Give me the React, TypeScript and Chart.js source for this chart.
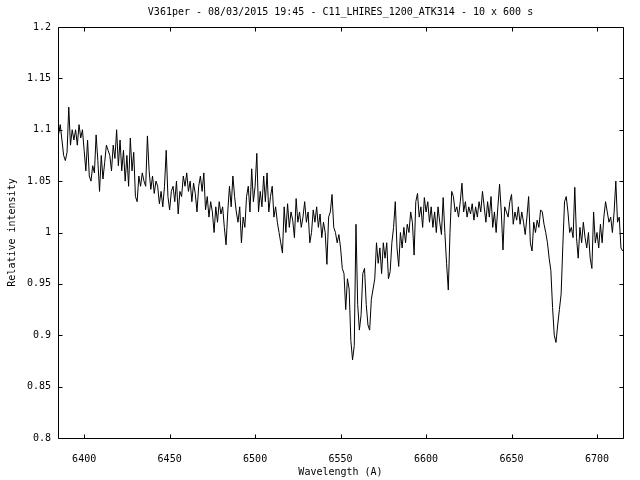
import { useEffect, useRef } from "react";
import { Chart, registerables } from "chart.js";

Chart.register(...registerables);

const TITLE = "V361per - 08/03/2015 19:45 - C11_LHIRES_1200_ATK314 - 10 x 600 s";
const X_LABEL = "Wavelength (A)";
const Y_LABEL = "Relative intensity";

const xTicks = [6400, 6450, 6500, 6550, 6600, 6650, 6700];
const yTicks = [0.8, 0.85, 0.9, 0.95, 1.0, 1.05, 1.1, 1.15, 1.2];

const X_MIN = 6384.7;
const X_MAX = 6715.2;
const Y_MIN = 0.8;
const Y_MAX = 1.2;

// Sampling grid of the spectrum (Angstrom)
const WAVELENGTH_START = 6385;
const WAVELENGTH_STEP = 1;

// Relative intensity, 6385 - 6451 A
const intensityA = [
  1.095, 1.105, 1.09, 1.075, 1.07, 1.078, 1.122, 1.085, 1.1, 1.09,
  1.1, 1.085, 1.105, 1.092, 1.1, 1.08, 1.06, 1.09, 1.055, 1.05,
  1.065, 1.058, 1.095, 1.07, 1.04, 1.075, 1.052, 1.068, 1.085, 1.08,
  1.075, 1.06, 1.085, 1.072, 1.1, 1.065, 1.09, 1.06, 1.08, 1.05,
  1.075, 1.045, 1.092, 1.06, 1.078, 1.035, 1.03, 1.055, 1.045, 1.058,
  1.05, 1.045, 1.094, 1.06, 1.042, 1.055, 1.038, 1.05, 1.045, 1.028,
  1.04, 1.025, 1.045, 1.08, 1.035, 1.022, 1.04,
];

// 6452 - 6516 A
const intensityB = [
  1.045, 1.03, 1.05, 1.018, 1.04, 1.035, 1.055, 1.045, 1.058, 1.04,
  1.05, 1.03, 1.048, 1.038, 1.02, 1.045, 1.055, 1.04, 1.058, 1.022,
  1.035, 1.015, 1.03, 1.02, 1.0, 1.025, 1.01, 1.03, 1.018, 1.025,
  1.005, 0.988, 1.02, 1.045, 1.025, 1.055, 1.035, 1.02, 1.01, 1.025,
  0.99, 1.015, 1.005, 1.035, 1.045, 1.02, 1.062, 1.03, 1.045, 1.077,
  1.02, 1.04, 1.025, 1.055, 1.03, 1.058, 1.02, 1.035, 1.045, 1.015,
  1.025, 1.01, 1.0, 0.99, 0.98,
];

// 6517 - 6582 A (H-alpha region)
const intensityC = [
  1.025, 1.0, 1.028, 1.005, 1.02, 1.012, 0.995, 1.033, 1.01, 1.02,
  1.005, 1.015, 1.03, 1.01, 1.02, 0.99, 1.0, 1.022, 1.01, 1.025,
  1.005, 1.018, 0.995, 1.01, 1.0, 0.969, 1.015, 1.02, 1.037, 1.005,
  1.0, 0.99, 0.998, 0.985, 0.965, 0.96, 0.925, 0.955, 0.945, 0.895,
  0.876, 0.89, 1.008, 0.93, 0.905, 0.92, 0.96, 0.965, 0.93, 0.91,
  0.905, 0.935, 0.945, 0.955, 0.99, 0.97, 0.985, 0.96, 0.99, 0.975,
  0.99, 0.955, 0.962, 0.99, 1.005, 1.03,
];

// 6583 - 6647 A
const intensityD = [
  0.985, 0.967, 1.0, 0.985, 1.005, 0.99, 1.008, 1.0, 1.02, 1.01,
  0.978, 1.03, 1.038, 1.015, 1.025, 1.005, 1.034, 1.02, 1.03, 1.01,
  1.025, 1.005, 1.02, 1.0, 1.025, 1.01, 0.998, 1.034, 1.0, 0.97,
  0.944, 1.0, 1.04, 1.035, 1.02, 1.025, 1.015, 1.03, 1.048, 1.02,
  1.03, 1.015, 1.025, 1.018, 1.028, 1.012, 1.025, 1.015, 1.03, 1.02,
  1.04, 1.025, 1.01, 1.03, 1.015, 1.035, 1.005, 1.02, 1.0, 1.025,
  1.047, 1.02, 0.983, 1.025, 1.02,
];

// 6648 - 6715 A (He I 6678 region)
const intensityE = [
  1.015, 1.03, 1.037, 1.008, 1.02, 1.012, 1.025, 1.008, 1.02, 1.01,
  0.998, 1.015, 1.035, 0.99, 0.982, 1.01, 1.0, 1.012, 1.005, 1.022,
  1.02, 1.008, 1.0, 0.99, 0.975, 0.963, 0.927, 0.9, 0.893, 0.91,
  0.925, 0.94, 0.987, 1.03, 1.035, 1.02, 1.0, 1.005, 0.995, 1.044,
  0.995, 0.975, 1.005, 0.99, 1.01, 0.995, 0.985, 1.0, 0.975, 0.965,
  1.02, 0.99, 1.0, 0.985, 1.008, 0.99, 1.015, 1.03, 1.02, 1.01,
  1.015, 1.0, 1.02, 1.05, 1.01, 1.015, 0.985, 0.982,
];

const FONT = "'DejaVu Sans Mono', 'Liberation Mono', monospace";

const framePlugin = {
  id: "gnuplotFrame",
  afterDraw(chart: any) {
    const { ctx, chartArea, scales } = chart;
    const l = Math.round(chartArea.left) + 0.5;
    const r = Math.round(chartArea.right) + 0.5;
    const t = Math.round(chartArea.top) + 0.5;
    const b = Math.round(chartArea.bottom) + 0.5;
    const tick = 4;
    ctx.save();
    ctx.strokeStyle = "#000";
    ctx.lineWidth = 1;
    ctx.beginPath();
    ctx.rect(l, t, r - l, b - t);
    xTicks.forEach((v) => {
      const px = Math.round(scales.x.getPixelForValue(v)) + 0.5;
      ctx.moveTo(px, b);
      ctx.lineTo(px, b - tick);
      ctx.moveTo(px, t);
      ctx.lineTo(px, t + tick);
    });
    yTicks.forEach((v) => {
      const py = Math.round(scales.y.getPixelForValue(v)) + 0.5;
      ctx.moveTo(l, py);
      ctx.lineTo(l + tick, py);
      ctx.moveTo(r, py);
      ctx.lineTo(r - tick, py);
    });
    ctx.stroke();
    // title centred over the plot area, as gnuplot does
    ctx.fillStyle = "#000";
    ctx.font = `10px ${FONT}`;
    ctx.textAlign = "center";
    ctx.textBaseline = "middle";
    ctx.fillText(TITLE, (chartArea.left + chartArea.right) / 2, 12);
    ctx.restore();
  },
};

export default function App() {
  const canvasRef = useRef<HTMLCanvasElement | null>(null);

  useEffect(() => {
    document.body.style.margin = "0";
    const canvas = canvasRef.current;
    if (!canvas) return;
    const intensity = [...intensityA, ...intensityB, ...intensityC, ...intensityD, ...intensityE];
    const points = intensity.map((v, i) => ({ x: WAVELENGTH_START + i * WAVELENGTH_STEP, y: v }));

    const chart = new Chart(canvas, {
      type: "line",
      data: {
        datasets: [
          {
            data: points,
            borderColor: "#000",
            borderWidth: 1,
            pointRadius: 0,
            tension: 0,
            fill: false,
          },
        ],
      },
      plugins: [framePlugin],
      options: {
        responsive: false,
        animation: false,
        devicePixelRatio: 1,
        layout: { padding: { left: 0, right: 17, top: 27, bottom: 0 } },
        plugins: {
          legend: { display: false },
          tooltip: { enabled: false },
          title: { display: false },
        },
        scales: {
          x: {
            type: "linear",
            min: X_MIN,
            max: X_MAX,
            grid: { display: false, drawTicks: false },
            border: { display: false },
            afterBuildTicks: (scale: any) => {
              scale.ticks = xTicks.map((v) => ({ value: v }));
            },
            afterFit: (scale: any) => {
              scale.height = 42;
            },
            ticks: {
              color: "#000",
              font: { family: FONT, size: 10 },
              padding: 15,
              maxRotation: 0,
              autoSkip: false,
              callback: (v: any) => String(v),
            },
            title: {
              display: true,
              text: X_LABEL,
              color: "#000",
              font: { family: FONT, size: 10 },
              padding: { top: 2, bottom: 2 },
            },
          },
          y: {
            type: "linear",
            min: Y_MIN,
            max: Y_MAX,
            grid: { display: false, drawTicks: false },
            border: { display: false },
            afterBuildTicks: (scale: any) => {
              scale.ticks = yTicks.map((v) => ({ value: v }));
            },
            afterFit: (scale: any) => {
              scale.width = 58;
            },
            ticks: {
              color: "#000",
              font: { family: FONT, size: 10 },
              padding: 7,
              autoSkip: false,
              callback: (v: any) => String(Number(Number(v).toFixed(2))),
            },
            title: {
              display: true,
              text: Y_LABEL,
              color: "#000",
              font: { family: FONT, size: 10 },
              padding: { top: 6, bottom: 2 },
            },
          },
        },
      },
    });

    return () => {
      chart.destroy();
    };
  }, []);

  return (
    <div style={{ position: "fixed", left: 0, top: 0, width: 640, height: 480, background: "#fff" }}>
      <canvas ref={canvasRef} width={640} height={480} />
    </div>
  );
}
